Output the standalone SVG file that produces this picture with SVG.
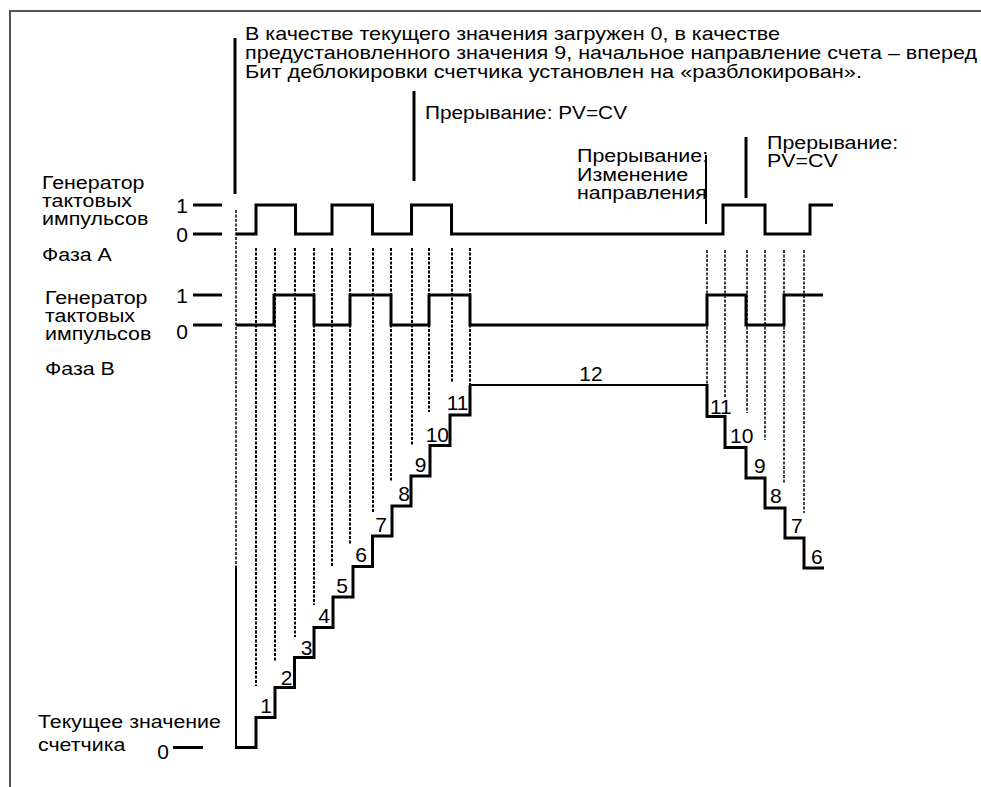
<svg xmlns="http://www.w3.org/2000/svg" width="981" height="787" viewBox="0 0 981 787">
<style>
text{font-family:"Liberation Sans",Arial,sans-serif;font-size:21px;fill:#000}
.s{font-size:18.5px}
.fr{fill:none;stroke:#555;stroke-width:2}
.w{fill:none;stroke:#000;stroke-width:3;stroke-linejoin:miter;stroke-linecap:butt}
.t{fill:none;stroke:#000;stroke-width:2}
.m{stroke:#000;stroke-width:3}
.mt{stroke:#000;stroke-width:2}
.d{fill:none;stroke:#000;stroke-width:2;stroke-dasharray:3 1.5}
.dr{fill:none;stroke:#000;stroke-width:1.5;stroke-dasharray:3 1.5}
.e{text-anchor:end}
.c{text-anchor:middle}
</style>
<rect width="981" height="787" fill="#fff"/>
<g id="frame"><path class="fr" d="M10,787 V11 H981"/></g>

<g id="note-top">
<text class="s" x="245" y="40" textLength="535" lengthAdjust="spacingAndGlyphs">В качестве текущего значения загружен 0, в качестве</text>
<text class="s" x="245" y="59" textLength="732" lengthAdjust="spacingAndGlyphs">предустановленного значения 9, начальное направление счета – вперед</text>
<text class="s" x="245" y="78" textLength="617" lengthAdjust="spacingAndGlyphs">Бит деблокировки счетчика установлен на «разблокирован».</text>
<line class="m" x1="235" y1="38" x2="235" y2="194"/>
</g>

<g id="int-pv1">
<text class="s" x="425" y="119" textLength="202" lengthAdjust="spacingAndGlyphs">Прерывание: PV=CV</text>
<line class="m" x1="414" y1="91" x2="414" y2="181"/>
</g>

<g id="int-dir">
<text class="s" transform="translate(577,162) scale(1.157,1)">Прерывание:</text>
<text class="s" transform="translate(577,181) scale(1.157,1)">Изменение</text>
<text class="s" transform="translate(577,199) scale(1.157,1)">направления</text>
<line class="mt" x1="706" y1="155" x2="706" y2="224"/>
</g>

<g id="int-pv2">
<text class="s" transform="translate(767,149) scale(1.157,1)">Прерывание:</text>
<text class="s" transform="translate(767,167) scale(1.157,1)">PV=CV</text>
<line class="m" x1="746" y1="137" x2="746" y2="198"/>
</g>

<g id="phase-a">
<text class="s" transform="translate(42,189) scale(1.157,1)">Генератор</text>
<text class="s" transform="translate(42,207) scale(1.157,1)">тактовых</text>
<text class="s" transform="translate(42,225) scale(1.157,1)">импульсов</text>
<text class="s" transform="translate(42,261) scale(1.157,1)">Фаза А</text>
<text class="e" x="188" y="213">1</text>
<text class="e" x="188" y="242">0</text>
<line class="m" x1="193" y1="205" x2="222" y2="205"/>
<line class="m" x1="193" y1="234" x2="222" y2="234"/>
<path class="w" d="M236,234 H256 V205 H295.5 V234 H332 V205 H372.5 V234 H411.5 V205 H451.5 V234 H723 V205 H765 V234 H810 V205 H833"/>
</g>

<g id="phase-b">
<text class="s" transform="translate(45,304) scale(1.157,1)">Генератор</text>
<text class="s" transform="translate(45,322) scale(1.157,1)">тактовых</text>
<text class="s" transform="translate(45,340) scale(1.157,1)">импульсов</text>
<text class="s" transform="translate(45,375) scale(1.157,1)">Фаза В</text>
<text class="e" x="188" y="303">1</text>
<text class="e" x="188" y="339">0</text>
<line class="m" x1="193" y1="295" x2="222" y2="295"/>
<line class="m" x1="193" y1="325" x2="222" y2="325"/>
<path class="w" d="M236,325 H274 V295 H314 V325 H350 V295 H391 V325 H429 V295 H470 V325 H707 V295 H746 V325 H784 V295 H823"/>
</g>

<g id="connectors">
<line class="dr" x1="236" y1="210" x2="236" y2="566"/>
<line class="d" x1="256" y1="248" x2="256" y2="686"/>
<line class="d" x1="275" y1="248" x2="275" y2="662"/>
<line class="d" x1="295" y1="248" x2="295" y2="637"/>
<line class="d" x1="314" y1="248" x2="314" y2="605"/>
<line class="d" x1="332" y1="248" x2="332" y2="567"/>
<line class="d" x1="350" y1="248" x2="350" y2="545"/>
<line class="d" x1="373" y1="248" x2="373" y2="513"/>
<line class="d" x1="391" y1="248" x2="391" y2="482"/>
<line class="d" x1="412" y1="248" x2="412" y2="445"/>
<line class="d" x1="429" y1="248" x2="429" y2="412"/>
<line class="d" x1="452" y1="248" x2="452" y2="382"/>
<line class="d" x1="470" y1="248" x2="470" y2="385"/>
<line class="dr" x1="707" y1="250" x2="707" y2="385"/>
<line class="dr" x1="725" y1="250" x2="725" y2="397"/>
<line class="dr" x1="747" y1="250" x2="747" y2="413"/>
<line class="dr" x1="765" y1="250" x2="765" y2="440"/>
<line class="dr" x1="784" y1="250" x2="784" y2="483"/>
<line class="dr" x1="804" y1="250" x2="804" y2="513"/>
</g>

<g id="counter">
<text class="s" transform="translate(38,728) scale(1.157,1)">Текущее значение</text>
<text class="s" transform="translate(38,751) scale(1.157,1)">счетчика</text>
<text class="e" x="169" y="759">0</text>
<line class="m" x1="173" y1="747.5" x2="203" y2="747.5"/>
<line class="t" x1="236" y1="566" x2="236" y2="747.5"/>
<path class="w" d="M235,747.5 H256 V717.5 H275 V687.5 H294.5 V657.5 H314 V627.5 H333 V597 H353 V566.5 H372.5 V536 H392 V506 H411 V476 H430 V445.5 H450 V415 H470 V385"/>
<path class="t" d="M470,385 H707"/>
<path class="w" d="M707,384 V416.5 H725 V447.5 H746 V478 H765 V508 H785 V538 H804 V568 H824"/>
<text class="e" x="272" y="713">1</text>
<text class="e" x="292.5" y="685">2</text>
<text class="e" x="312.5" y="655">3</text>
<text class="e" x="330" y="623">4</text>
<text class="e" x="348" y="593">5</text>
<text class="e" x="367" y="562">6</text>
<text class="e" x="387" y="532">7</text>
<text class="e" x="410" y="501">8</text>
<text class="e" x="426.5" y="472">9</text>
<text class="e" x="449" y="442">10</text>
<text class="e" x="468.5" y="410">11</text>
<text class="c" x="591" y="381">12</text>
<text x="710" y="414">11</text>
<text x="730" y="443">10</text>
<text x="754" y="473">9</text>
<text x="770" y="503">8</text>
<text x="791" y="533">7</text>
<text x="811" y="564">6</text>
</g>
</svg>
